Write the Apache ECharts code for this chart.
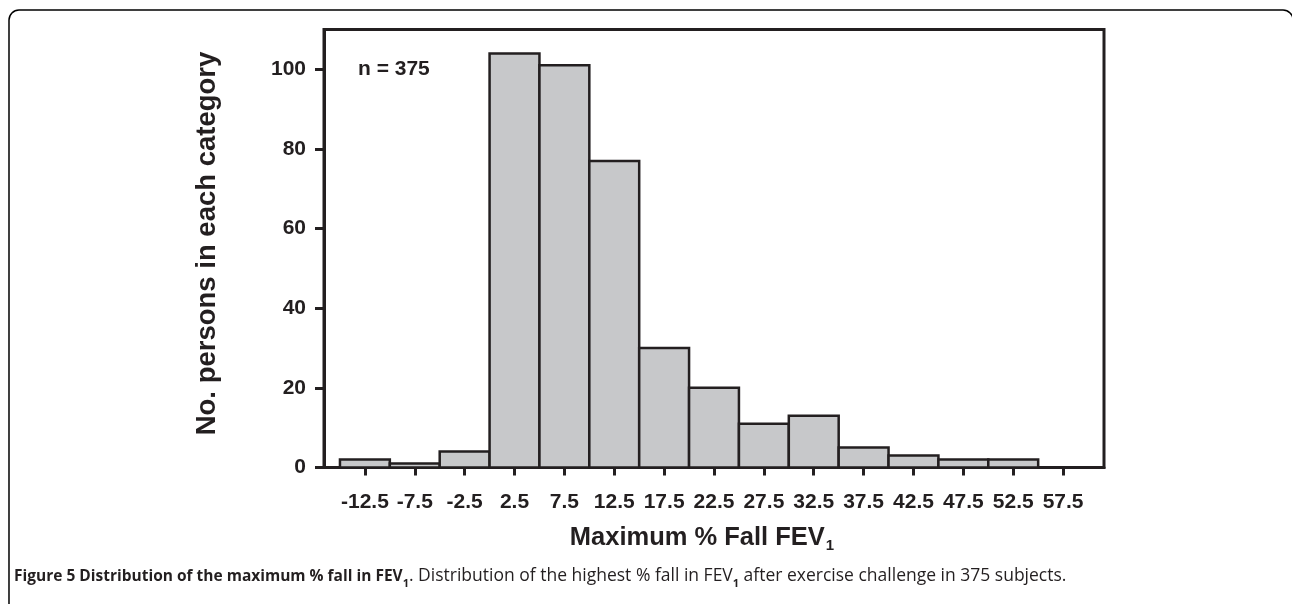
<!DOCTYPE html>
<html>
<head>
<meta charset="utf-8">
<script src="https://cdn.jsdelivr.net/npm/echarts@6/dist/echarts.min.js"></script>
<style>
  html, body { margin: 0; padding: 0; background: #ffffff; }
  #chart { width: 1292px; height: 604px; }
</style>
</head>
<body>
<div id="chart"></div>
<script>
// Data
const binCenters = [-12.5, -7.5, -2.5, 2.5, 7.5, 12.5, 17.5, 22.5, 27.5, 32.5, 37.5, 42.5, 47.5, 52.5, 57.5];
const counts = [2, 1, 4, 104, 101, 77, 30, 20, 11, 13, 5, 3, 2, 2, 0];
const yTicks = [0, 20, 40, 60, 80, 100];
const binWidth = 5;
const sampleLabel = 'n = 375';

const ink = '#231f20';
const barFill = '#c7c8ca';
const axisFont = 'Liberation Sans, Arial, Helvetica, sans-serif';

const chart = echarts.init(document.getElementById('chart'), null, { renderer: 'canvas' });

const barData = binCenters.map((c, i) => [c, counts[i]]);

const option = {
  backgroundColor: '#ffffff',
  animation: false,
  title: [
    {
      left: 14,
      top: 567,
      padding: 0,
      text: '{b|Figure 5 Distribution of the maximum % fall in FEV}{bs|1}{r|. Distribution of the highest % fall in FEV}{bs|1}{r| after exercise challenge in 375 subjects.}',
      textStyle: {
        rich: {
          b: { fontFamily: 'Open Sans', fontWeight: 'bold', fontSize: 15.5, color: ink, lineHeight: 20, verticalAlign: 'top', padding: [2, 0, 0, 0] },
          r: { fontFamily: 'Open Sans', fontWeight: 'normal', fontSize: 17.5, color: ink, lineHeight: 20, verticalAlign: 'top' },
          bs: { fontFamily: 'Open Sans', fontWeight: 'bold', fontSize: 11, color: ink, lineHeight: 12, verticalAlign: 'top', padding: [11, 0, 0, 0] }
        }
      }
    },
    {
      left: 358,
      top: 58,
      padding: 0,
      text: sampleLabel,
      textStyle: { fontFamily: axisFont, fontWeight: 'bold', fontSize: 21, lineHeight: 22, color: ink }
    }
  ],
  graphic: [
    {
      type: 'rect',
      silent: true,
      shape: { x: 9, y: 10, width: 1284, height: 700, r: 10 },
      style: { fill: 'none', stroke: '#000000', lineWidth: 1.5 }
    }
  ],
  grid: {
    left: 324,
    right: 188,
    top: 29.5,
    bottom: 136.5,
    show: true,
    borderColor: ink,
    borderWidth: 3,
    backgroundColor: 'transparent'
  },
  xAxis: {
    type: 'value',
    min: -16.6,
    max: 61.6,
    splitLine: { show: false },
    axisLine: { show: true, onZero: false, lineStyle: { color: ink, width: 3 } },
    axisTick: {
      show: true,
      inside: false,
      length: 8,
      customValues: binCenters,
      lineStyle: { color: ink, width: 3 }
    },
    axisLabel: {
      show: true,
      customValues: binCenters,
      margin: 24,
      fontFamily: axisFont,
      fontWeight: 'bold',
      fontSize: 21,
      color: ink,
      formatter: v => String(v)
    },
    name: '{t|Maximum % Fall FEV}{s|1}',
    nameLocation: 'middle',
    nameGap: 57,
    nameTextStyle: {
      padding: [0, 24, 0, 0],
      rich: {
        t: { fontFamily: axisFont, fontWeight: 'bold', fontSize: 25.5, color: ink, lineHeight: 28, verticalAlign: 'top' },
        s: { fontFamily: axisFont, fontWeight: 'bold', fontSize: 15, color: ink, lineHeight: 16, verticalAlign: 'top', padding: [14, 0, 0, 1] }
      }
    }
  },
  yAxis: {
    type: 'value',
    min: 0,
    max: 110,
    splitLine: { show: false },
    axisLine: { show: true, onZero: false, lineStyle: { color: ink, width: 3 } },
    axisTick: {
      show: true,
      inside: false,
      length: 9,
      customValues: yTicks,
      lineStyle: { color: ink, width: 3 }
    },
    axisLabel: {
      show: true,
      customValues: yTicks,
      margin: 18,
      fontFamily: axisFont,
      fontWeight: 'bold',
      fontSize: 21,
      color: ink
    },
    name: 'No. persons in each category',
    nameLocation: 'middle',
    nameGap: 103,
    nameRotate: 90,
    nameTextStyle: {
      fontFamily: axisFont,
      fontWeight: 'bold',
      fontSize: 27.5,
      color: ink,
      padding: [0, 0, 0, 10]
    }
  },
  series: [
    {
      type: 'custom',
      data: barData,
      encode: { x: 0, y: 1 },
      renderItem: function (params, api) {
        const c = api.value(0);
        const v = api.value(1);
        const p0 = api.coord([c - binWidth / 2, v]);
        const p1 = api.coord([c + binWidth / 2, 0]);
        return {
          type: 'rect',
          shape: { x: p0[0], y: p0[1], width: p1[0] - p0[0], height: p1[1] - p0[1] },
          style: { fill: barFill, stroke: ink, lineWidth: 2.5 }
        };
      },
      z: 1
    }
  ]
};

chart.setOption(option);
</script>
</body>
</html>
